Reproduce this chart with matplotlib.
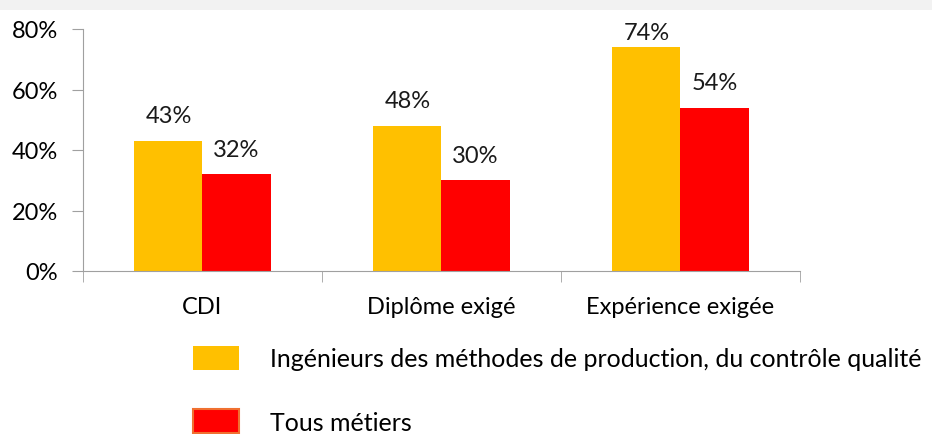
import numpy as np
import matplotlib.pyplot as plt
from matplotlib.patches import Rectangle

categories = ['CDI', 'Diplôme exigé', 'Expérience exigée']
ingenieurs = [43, 48, 74]
tous_metiers = [32, 30, 54]
series_names = ['Ingénieurs des méthodes de production, du contrôle qualité', 'Tous métiers']
yticks = [0, 20, 40, 60, 80]

plt.rcParams['font.family'] = ['Lato', 'DejaVu Sans']

fig = plt.figure(figsize=(9.32, 4.35), dpi=100)
fig.patches.append(Rectangle((0, 1 - 11 / 435), 1, 11 / 435, transform=fig.transFigure,
                             facecolor='#f2f2f2', edgecolor='none'))
ax = fig.add_axes([83 / 932, 1 - 272 / 435, 717 / 932, 242 / 435])

x = np.arange(len(categories))
w = 0.285
b1 = ax.bar(x - w / 2, ingenieurs, w, color='#FFC000', label=series_names[0])
b2 = ax.bar(x + w / 2, tous_metiers, w, color='#FF0000', label=series_names[1])

for bars, vals in [(b1, ingenieurs), (b2, tous_metiers)]:
    for rect, v in zip(bars, vals):
        ax.text(rect.get_x() + rect.get_width() / 2, min(v + 8.3, 79), f'{v}%',
                ha='center', va='center', fontsize=17, color='#1a1a1a')

ax.set_xlim(-0.5, 2.5)
ax.set_ylim(0, 80)
ax.set_yticks(yticks)
ax.set_yticklabels([f'{t}%' for t in yticks], fontsize=17)
ax.set_xticks(x)
ax.set_xticklabels(categories, fontsize=17)
ax.set_xticks(np.arange(-0.5, 3, 1), minor=True)
ax.tick_params(axis='x', which='major', length=0, pad=18)
ax.tick_params(axis='x', which='minor', length=8, color='#a0a0a0')
ax.tick_params(axis='y', length=8, color='#a0a0a0', pad=10)
for s in ['top', 'right']:
    ax.spines[s].set_visible(False)
for s in ['left', 'bottom']:
    ax.spines[s].set_color('#a0a0a0')

leg = fig.legend(handles=[b1, b2], loc='upper left', bbox_to_anchor=(170 / 932, 1 - 324 / 435),
                 frameon=False, fontsize=18, handlelength=1.85, handleheight=1.12,
                 handletextpad=1.25, labelspacing=1.55)
leg.legend_handles[1].set_edgecolor('#f07030')
leg.legend_handles[1].set_linewidth(1.5)

fig.savefig('out.png', dpi=100)
